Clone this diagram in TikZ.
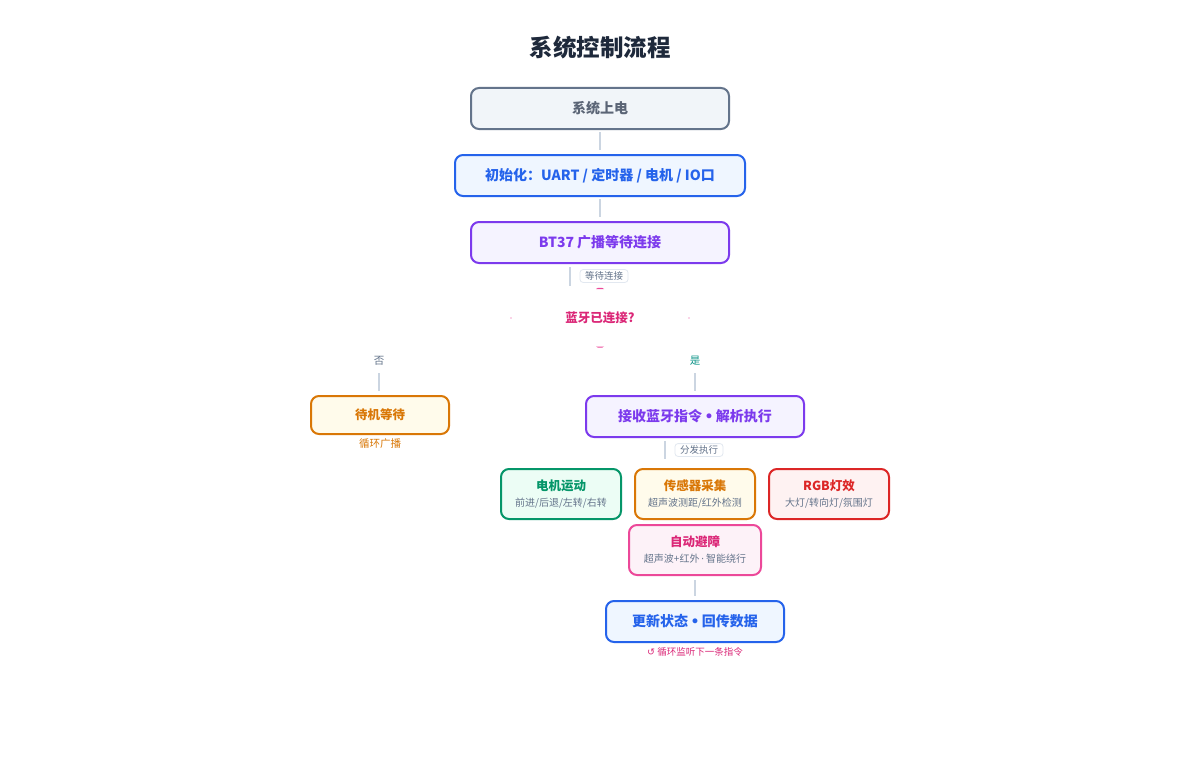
\documentclass[tikz,border=0pt]{standalone}
\usepackage{fontspec}
\setmainfont{Noto Sans CJK SC}
\newfontfamily\symfont{DejaVu Sans}
\usetikzlibrary{shapes.geometric}
\definecolor{titlec}{HTML}{1E293B}
\definecolor{linec}{HTML}{CBD5E1}
\definecolor{tagb}{HTML}{E2E8F0}
\definecolor{subc}{HTML}{64748B}
\definecolor{grayb}{HTML}{64748B}
\definecolor{grayf}{HTML}{F1F5F9}
\definecolor{grayt}{HTML}{5B6576}
\definecolor{blueb}{HTML}{2563EB}
\definecolor{bluef}{HTML}{EFF6FF}
\definecolor{purb}{HTML}{7C3AED}
\definecolor{purf}{HTML}{F5F3FF}
\definecolor{pinkb}{HTML}{EC4899}
\definecolor{pinkt}{HTML}{DB2777}
\definecolor{pinkf}{HTML}{FDF2F8}
\definecolor{orab}{HTML}{D97706}
\definecolor{oraf}{HTML}{FFFBEB}
\definecolor{greb}{HTML}{059669}
\definecolor{gref}{HTML}{ECFDF5}
\definecolor{redb}{HTML}{DC2626}
\definecolor{redf}{HTML}{FEF2F2}
\definecolor{tealt}{HTML}{0D9488}
\newcommand{\mybul}{\,{\symfont •}\,}
\newcommand{\mydot}{\,{\symfont ·}\,}
\tikzset{
  box/.style={draw, rounded corners=8pt, line width=2pt, inner sep=0pt, align=center},
  mainfont/.style={font=\fontsize{14}{16}\selectfont\bfseries},
  conn/.style={draw=linec, line width=2pt},
  tag/.style={draw=tagb, fill=white, rounded corners=3pt, line width=0.8pt, inner xsep=5pt, inner ysep=2pt, text=subc, font=\fontsize{9.5}{11}\selectfont},
  small/.style={font=\fontsize{10.5}{12}\selectfont},
  twoline/.style={box, minimum width=120pt, minimum height=50pt, font=\fontsize{10}{16}\selectfont},
  tick/.style={fill=pinkb}
}
\begin{document}
\begin{tikzpicture}[x=1pt,y=-1pt]
\useasboundingbox (0,0) rectangle (1200,760);
\fill[white] (0,0) rectangle (1200,760);

\node[text=titlec, font=\fontsize{23.5}{28}\selectfont\bfseries] (title) at (600,48) {系统控制流程};

\node[box, mainfont, draw=grayb, fill=grayf, text=grayt, minimum width=258pt, minimum height=41pt] (power) at (600,108.5) {系统上电};
\node[box, mainfont, draw=blueb, fill=bluef, text=blueb, minimum width=290pt, minimum height=41pt] (init) at (600,175.5) {初始化：UART / 定时器 / 电机 / IO口};
\node[box, mainfont, draw=purb, fill=purf, text=purb, minimum width=258pt, minimum height=41pt] (bt) at (600,242.5) {BT37 广播等待连接};

\draw[conn, shorten <=2pt, shorten >=4pt] (power.south) -- (init.north);
\draw[conn, shorten <=2pt, shorten >=4pt] (init.south) -- (bt.north);

% decision (only the tips of the diamond are visible)
\node[text=pinkt, font=\fontsize{12.5}{15}\selectfont\bfseries] (dec) at (600,318) {蓝牙已连接?};
\coordinate (dtop) at (600,289);
\coordinate (dbot) at (600,346.5);
\coordinate (dleft) at (511,318);
\coordinate (dright) at (689,318);
\fill[tick] ([xshift=-4pt]dtop) -- ([xshift=4pt]dtop) -- ([xshift=2pt,yshift=1.2pt]dtop) -- ([xshift=-2pt,yshift=1.2pt]dtop) -- cycle;
\fill[tick] ([xshift=-4pt]dbot) -- ([xshift=4pt]dbot) -- ([xshift=2pt,yshift=-1.2pt]dbot) -- ([xshift=-2pt,yshift=-1.2pt]dbot) -- cycle;
\fill[tick] (dleft) circle (0.7pt);
\fill[tick] (dright) circle (0.7pt);

\coordinate (wa) at (570,267);
\coordinate (wb) at (570,286);
\draw[conn] (wa) -- (wb);
\node[tag] (waittag) at (604,276) {等待连接};

% branches
\node[text=subc, small] (no) at (379,361) {否};
\node[text=tealt, small] (yes) at (695,361) {是};

\node[box, draw=orab, fill=oraf, text=orab, minimum width=138pt, minimum height=38pt, font=\fontsize{12.5}{14}\selectfont\bfseries] (idle) at (380,415) {待机等待};
\node[text=orab, small] (idlenote) at (380,444) {循环广播};

\node[box, mainfont, draw=purb, fill=purf, text=purb, minimum width=218pt, minimum height=41pt] (recv) at (695,416.5) {接收蓝牙指令\mybul 解析执行};

\draw[conn, shorten <=4pt, shorten >=4pt] (no.south) -- (no.south |- idle.north);
\draw[conn, shorten <=4pt, shorten >=4pt] (yes.south) -- (recv.north);

\coordinate (da) at (665,441);
\coordinate (db) at (665,459);
\draw[conn] (da) -- (db);
\node[tag] (disptag) at (699,450) {分发执行};

% modules
\node[twoline, draw=greb, fill=gref] (motor) at (561,494) {{\fontsize{12.5}{16}\selectfont\bfseries\color{greb}电机运动}\\{\color{subc}前进/后退/左转/右转}};
\node[twoline, draw=orab, fill=oraf] (sensor) at (695,494) {{\fontsize{12.5}{16}\selectfont\bfseries\color{orab}传感器采集}\\{\color{subc}超声波测距/红外检测}};
\node[twoline, draw=redb, fill=redf] (rgb) at (829,494) {{\fontsize{12.5}{16}\selectfont\bfseries\color{redb}RGB灯效}\\{\color{subc}大灯/转向灯/氛围灯}};
\node[twoline, draw=pinkb, fill=pinkf, minimum width=132pt] (avoid) at (695,550) {{\fontsize{12.5}{16}\selectfont\bfseries\color{pinkt}自动避障}\\{\color{subc}超声波+红外\mydot 智能绕行}};

\node[box, mainfont, draw=blueb, fill=bluef, text=blueb, minimum width=178pt, minimum height=41pt] (update) at (695,621.5) {更新状态\mybul 回传数据};
\draw[conn, shorten <=4pt, shorten >=4pt] (avoid.south) -- (update.north);

\node[text=pinkt, font=\fontsize{9.5}{11}\selectfont] (loop) at (695,652) {{\symfont ↺} 循环监听下一条指令};
\end{tikzpicture}
\end{document}
